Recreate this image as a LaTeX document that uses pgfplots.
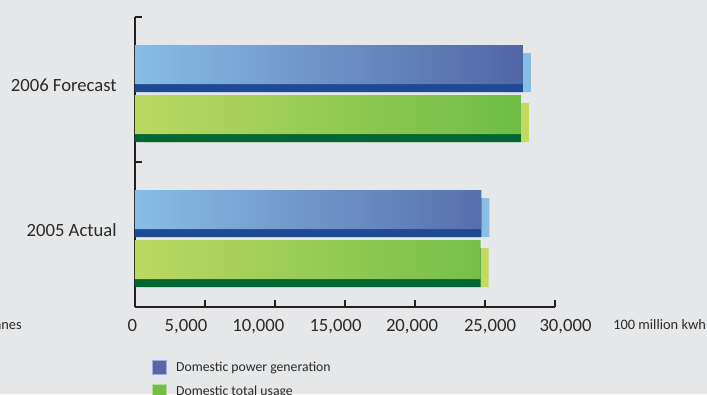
\documentclass[border=0pt]{standalone}
\usepackage{pgfplots}
\usepackage{pgfplotstable}
\pgfplotsset{compat=1.18}
\usepackage{fontspec}
\setmainfont{Carlito}
\definecolor{bg}{HTML}{E6E7E8}
\definecolor{axisc}{HTML}{231F20}
\definecolor{txt}{HTML}{2A2A2A}
\definecolor{blueL}{HTML}{88BDE6}
\definecolor{blueR}{HTML}{5166A5}
\definecolor{blueDark}{HTML}{1E4A93}
\definecolor{blueSide}{HTML}{86BEE8}
\definecolor{greenL}{HTML}{BBD862}
\definecolor{greenR}{HTML}{6DBD45}
\definecolor{greenDark}{HTML}{006633}
\definecolor{greenSide}{HTML}{C2DA62}
\definecolor{legBlue}{HTML}{5467A9}
\definecolor{legBlueB}{HTML}{A3AED6}
\definecolor{legGreen}{HTML}{73BE44}
\definecolor{legGreenB}{HTML}{B5DC9A}

\pgfplotstableread{
cat power usage
0 24750 24690
1 27700 27570
}\data

\begin{document}
\begin{tikzpicture}
\fill[bg] (0pt,0pt) rectangle (530.25pt,-295.5pt);
\useasboundingbox (0pt,0pt) rectangle (530.25pt,-295.5pt);
\begin{axis}[
  at={(101.25pt,-230.25pt)}, anchor=south west,
  scale only axis, width=315pt, height=217.5pt,
  xmin=0, xmax=30000, ymin=-0.5, ymax=1.5,
  scaled x ticks=false,
  axis lines*=left,
  axis line style={line width=1.3pt, draw=axisc},
  tick style={line width=0.9pt, draw=axisc},
  tick align=inside, major tick length=5pt,
  xtick={0,5000,10000,15000,20000,25000,30000},
  xticklabels={{\hspace*{-4pt}0},{\hspace*{-28.5pt}5,000},{\hspace*{-25pt}10,000},{\hspace*{-14.25pt}15,000},{\hspace*{-4.5pt}20,000},{\hspace*{7.5pt}25,000},{\hspace*{15.75pt}30,000}},
  xticklabel style={yshift=-6pt, font=\fontsize{14}{16}\selectfont, text=txt},
  ytick={0.5,1.5}, yticklabels={,},
  extra y ticks={0.031,1.031},
  extra y tick labels={2005 Actual,2006 Forecast},
  extra y tick style={major tick length=0pt},
  yticklabel style={xshift=-10.2pt, font=\fontsize{14}{16}\selectfont, text=txt},
  clip=false,
  legend image code/.code={\draw[#1] (0pt,-5.25pt) rectangle (10.5pt,5.25pt); \path (16.5pt,0pt);},
  legend style={at={(0.040,-0.183)}, anchor=north west, draw=none, fill=none,
    font=\fontsize{10.3}{12}\selectfont, text=txt, inner sep=0pt, row sep=6.8pt,
    nodes={inner sep=1pt}},
  legend cell align=left,
]
% power generation (blue)
\addplot[xbar, bar width=29.25pt, bar shift=12.75pt, xshift=6pt, fill=blueSide, draw=none, forget plot] table[x=power,y=cat]{\data};
\addplot[xbar, bar width=29.25pt, bar shift=12.75pt, fill=blueDark, draw=none, forget plot] table[x=power,y=cat]{\data};
\addplot[xbar, bar width=29.25pt, bar shift=18.75pt, left color=blueL, right color=blueR, draw=none, forget plot] table[x=power,y=cat]{\data};
% total usage (green)
\addplot[xbar, bar width=29.25pt, bar shift=-24.75pt, xshift=6pt, fill=greenSide, draw=none, forget plot] table[x=usage,y=cat]{\data};
\addplot[xbar, bar width=29.25pt, bar shift=-24.75pt, fill=greenDark, draw=none, forget plot] table[x=usage,y=cat]{\data};
\addplot[xbar, bar width=29.25pt, bar shift=-18.75pt, left color=greenL, right color=greenR, draw=none, forget plot] table[x=usage,y=cat]{\data};
\addlegendimage{fill=legBlue, draw=legBlueB, line width=0.6pt}
\addlegendentry{Domestic power generation}
\addlegendimage{fill=legGreen, draw=legGreenB, line width=0.6pt}
\addlegendentry{Domestic total usage}
\end{axis}
\node[anchor=east, inner sep=0pt, text=txt, font=\fontsize{10.8}{12}\selectfont] at (16.5pt,-243.75pt) {tonnes};
\node[anchor=west, inner sep=0pt, text=txt, font=\fontsize{10.8}{12}\selectfont] at (459.75pt,-243.2pt) {100 million kwh};
\end{tikzpicture}
\end{document}
